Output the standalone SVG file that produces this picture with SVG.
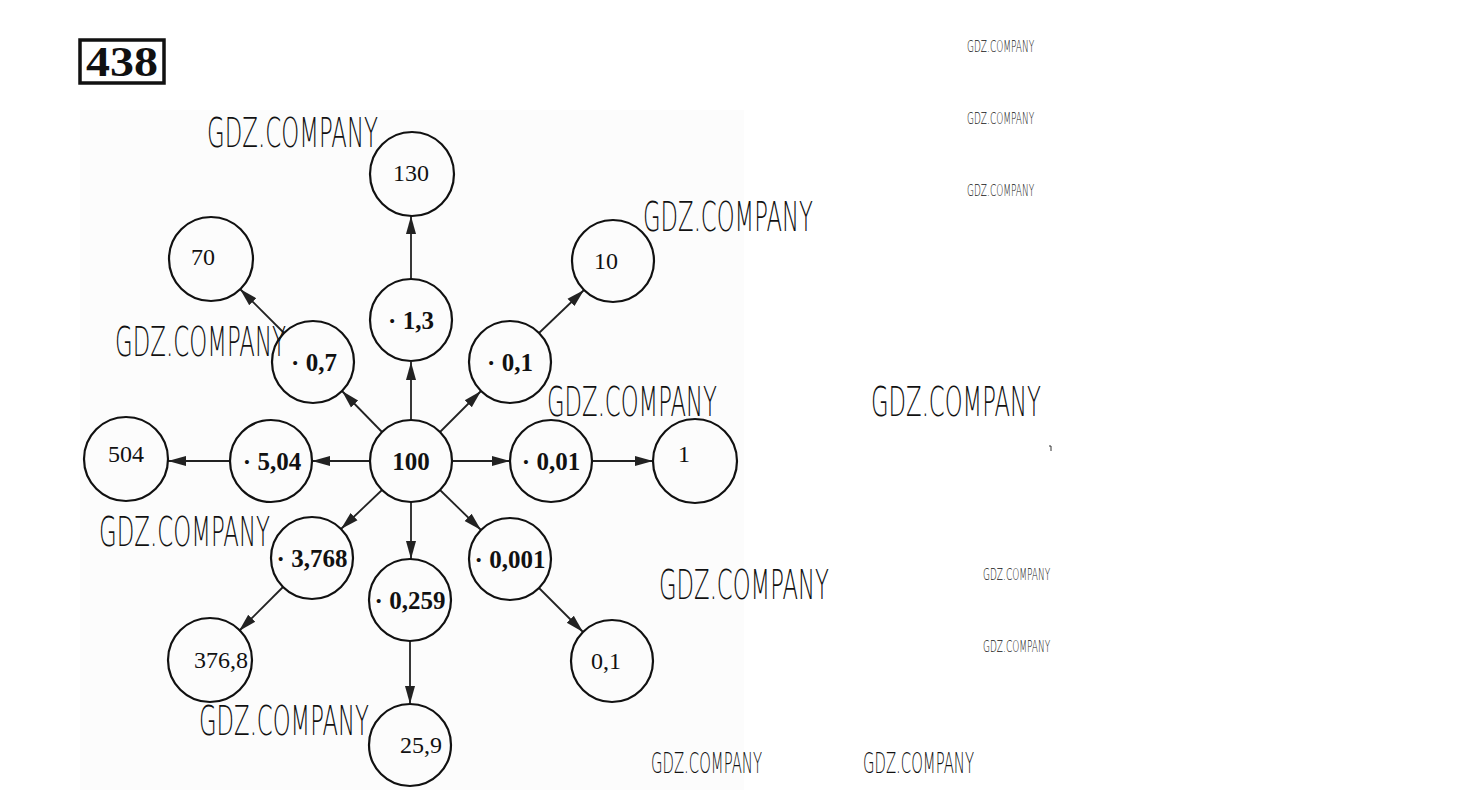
<svg xmlns="http://www.w3.org/2000/svg" width="1460" height="812" viewBox="0 0 1460 812">
<defs>
<marker id="ah" markerWidth="20" markerHeight="12" refX="18" refY="6" orient="auto" markerUnits="userSpaceOnUse">
<path d="M0,1 L18,6 L0,11 z" fill="#222"/>
</marker>
<style>
.n{fill:none;stroke:#111;stroke-width:2.2}
.c line{stroke:#222;stroke-width:1.8;marker-end:url(#ah)}
.r{font-family:"Liberation Serif",serif;font-size:24px;fill:#111;text-anchor:middle}
.b{font-family:"Liberation Serif",serif;font-size:25px;font-weight:bold;fill:#111;text-anchor:middle}
.w{font-family:"DejaVu Sans","Liberation Sans",sans-serif;font-weight:200;fill:#111}
</style>
</defs>
<rect width="1460" height="812" fill="#fff"/>
<rect x="80" y="110" width="664" height="680" fill="#fcfcfc"/>
<g id="title">
<rect x="80" y="40" width="84" height="43" fill="#fff" stroke="#111" stroke-width="3.5"/>
<text x="122" y="76" font-family="Liberation Serif,serif" font-size="42" font-weight="bold" text-anchor="middle" fill="#111" textLength="72" lengthAdjust="spacingAndGlyphs">438</text>
</g>
<g class="c" id="connectors">
<line x1="411" y1="420" x2="411" y2="362"/>
<line x1="411" y1="279" x2="411" y2="216"/>
<line x1="382" y1="432" x2="342" y2="391"/>
<line x1="284" y1="333" x2="240" y2="289"/>
<line x1="440" y1="432" x2="481" y2="391"/>
<line x1="539" y1="333" x2="584" y2="290"/>
<line x1="370" y1="461" x2="312" y2="461"/>
<line x1="230" y1="461" x2="168" y2="461"/>
<line x1="452" y1="461" x2="510" y2="461"/>
<line x1="592" y1="461" x2="653" y2="461"/>
<line x1="382" y1="490" x2="341" y2="529"/>
<line x1="283" y1="587" x2="239" y2="631"/>
<line x1="411" y1="502" x2="411" y2="559"/>
<line x1="410" y1="641" x2="410" y2="704"/>
<line x1="440" y1="490" x2="481" y2="530"/>
<line x1="539" y1="588" x2="583" y2="632"/>
</g>
<g id="n100"><circle class="n" cx="411" cy="461" r="41"/><text class="b" x="411" y="470">100</text></g>
<g id="n13"><circle class="n" cx="411" cy="320" r="41"/><text class="b" x="411" y="329">· 1,3</text></g>
<g id="n130"><circle class="n" cx="412" cy="174" r="42"/><text class="r" x="411" y="181">130</text></g>
<g id="n07"><circle class="n" cx="313" cy="362" r="41"/><text class="b" x="314" y="371">· 0,7</text></g>
<g id="n70"><circle class="n" cx="211" cy="259" r="42"/><text class="r" x="203" y="265">70</text></g>
<g id="n01"><circle class="n" cx="510" cy="362" r="41"/><text class="b" x="510" y="371">· 0,1</text></g>
<g id="n10"><circle class="n" cx="613" cy="261" r="41"/><text class="r" x="606" y="269">10</text></g>
<g id="n504m"><circle class="n" cx="271" cy="461" r="41"/><text class="b" x="272" y="470">· 5,04</text></g>
<g id="n504"><circle class="n" cx="126" cy="459" r="42"/><text class="r" x="126" y="462">504</text></g>
<g id="n001"><circle class="n" cx="551" cy="461" r="41"/><text class="b" x="551" y="470">· 0,01</text></g>
<g id="n1"><circle class="n" cx="695" cy="461" r="42"/><text class="r" x="684" y="462">1</text></g>
<g id="n3768"><circle class="n" cx="312" cy="558" r="41"/><text class="b" x="312" y="567">· 3,768</text></g>
<g id="n3768r"><circle class="n" cx="210" cy="660" r="42"/><text class="r" x="221" y="668">376,8</text></g>
<g id="n0259"><circle class="n" cx="410" cy="600" r="41"/><text class="b" x="410" y="609">· 0,259</text></g>
<g id="n259"><circle class="n" cx="410" cy="745" r="41"/><text class="r" x="421" y="753">25,9</text></g>
<g id="n0001"><circle class="n" cx="510" cy="559" r="41"/><text class="b" x="510" y="568">· 0,001</text></g>
<g id="n01r"><circle class="n" cx="612" cy="661" r="41"/><text class="r" x="606" y="669">0,1</text></g>
<g id="watermarks">
<text class="w" transform="translate(207,147) scale(0.555,1)" font-size="41" textLength="308" lengthAdjust="spacingAndGlyphs">GDZ.COMPANY</text>
<text class="w" transform="translate(643,231) scale(0.555,1)" font-size="41" textLength="306" lengthAdjust="spacingAndGlyphs">GDZ.COMPANY</text>
<text class="w" transform="translate(115,356) scale(0.555,1)" font-size="41" textLength="308" lengthAdjust="spacingAndGlyphs">GDZ.COMPANY</text>
<text class="w" transform="translate(547,416) scale(0.555,1)" font-size="41" textLength="306" lengthAdjust="spacingAndGlyphs">GDZ.COMPANY</text>
<text class="w" transform="translate(871,416) scale(0.555,1)" font-size="41" textLength="306" lengthAdjust="spacingAndGlyphs">GDZ.COMPANY</text>
<text class="w" transform="translate(99,546) scale(0.555,1)" font-size="41" textLength="308" lengthAdjust="spacingAndGlyphs">GDZ.COMPANY</text>
<text class="w" transform="translate(659,599) scale(0.555,1)" font-size="41" textLength="306" lengthAdjust="spacingAndGlyphs">GDZ.COMPANY</text>
<text class="w" transform="translate(199,735) scale(0.555,1)" font-size="41" textLength="306" lengthAdjust="spacingAndGlyphs">GDZ.COMPANY</text>
<text class="w" transform="translate(967,52) scale(0.555,1)" font-size="16" textLength="121" lengthAdjust="spacingAndGlyphs">GDZ.COMPANY</text>
<text class="w" transform="translate(967,124) scale(0.555,1)" font-size="16" textLength="121" lengthAdjust="spacingAndGlyphs">GDZ.COMPANY</text>
<text class="w" transform="translate(967,196) scale(0.555,1)" font-size="16" textLength="121" lengthAdjust="spacingAndGlyphs">GDZ.COMPANY</text>
<text class="w" transform="translate(983,580) scale(0.555,1)" font-size="16" textLength="121" lengthAdjust="spacingAndGlyphs">GDZ.COMPANY</text>
<text class="w" transform="translate(983,652) scale(0.555,1)" font-size="16" textLength="121" lengthAdjust="spacingAndGlyphs">GDZ.COMPANY</text>
<text class="w" transform="translate(651,773) scale(0.555,1)" font-size="28" textLength="200" lengthAdjust="spacingAndGlyphs">GDZ.COMPANY</text>
<text class="w" transform="translate(863,773) scale(0.555,1)" font-size="28" textLength="200" lengthAdjust="spacingAndGlyphs">GDZ.COMPANY</text>
</g>
<path d="M1049,446 h2 v5" fill="none" stroke="#333" stroke-width="1"/>
</svg>
